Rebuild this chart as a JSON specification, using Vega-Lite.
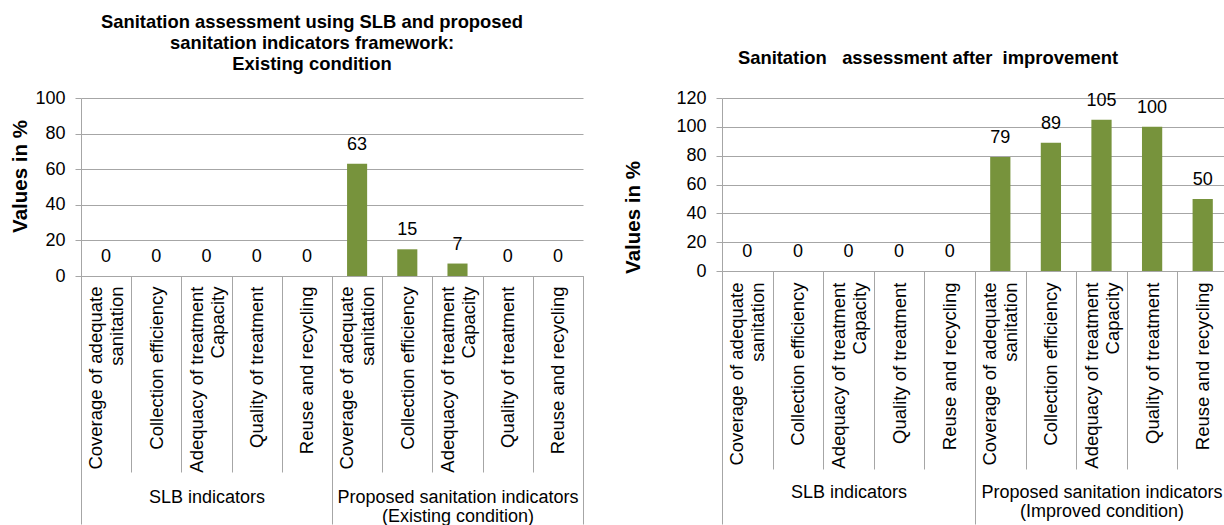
{
  "$schema": "https://vega.github.io/schema/vega-lite/v6.json",
  "padding": {"top": 12, "left": 10, "right": 0, "bottom": 0},
  "spacing": 39,
  "config": {
    "font": "Liberation Sans",
    "view": {"stroke": null},
    "axis": {"labelColor": "#000", "titleColor": "#000", "domainColor": "#a6a6a6", "tickColor": "#a6a6a6", "gridColor": "#a6a6a6"}
  },
  "datasets": {
    "existing": [
      {"key": "SLB indicators|Coverage of adequate sanitation", "group": "SLB indicators", "value": 0},
      {"key": "SLB indicators|Collection efficiency", "group": "SLB indicators", "value": 0},
      {"key": "SLB indicators|Adequacy of treatment Capacity", "group": "SLB indicators", "value": 0},
      {"key": "SLB indicators|Quality of treatment", "group": "SLB indicators", "value": 0},
      {"key": "SLB indicators|Reuse and recycling", "group": "SLB indicators", "value": 0},
      {"key": "Proposed|Coverage of adequate sanitation", "group": "Proposed sanitation indicators (Existing condition)", "value": 63},
      {"key": "Proposed|Collection efficiency", "group": "Proposed sanitation indicators (Existing condition)", "value": 15},
      {"key": "Proposed|Adequacy of treatment Capacity", "group": "Proposed sanitation indicators (Existing condition)", "value": 7},
      {"key": "Proposed|Quality of treatment", "group": "Proposed sanitation indicators (Existing condition)", "value": 0},
      {"key": "Proposed|Reuse and recycling", "group": "Proposed sanitation indicators (Existing condition)", "value": 0}
    ],
    "improved": [
      {"key": "SLB indicators|Coverage of adequate sanitation", "group": "SLB indicators", "value": 0},
      {"key": "SLB indicators|Collection efficiency", "group": "SLB indicators", "value": 0},
      {"key": "SLB indicators|Adequacy of treatment Capacity", "group": "SLB indicators", "value": 0},
      {"key": "SLB indicators|Quality of treatment", "group": "SLB indicators", "value": 0},
      {"key": "SLB indicators|Reuse and recycling", "group": "SLB indicators", "value": 0},
      {"key": "Proposed|Coverage of adequate sanitation", "group": "Proposed sanitation indicators (Improved condition)", "value": 79},
      {"key": "Proposed|Collection efficiency", "group": "Proposed sanitation indicators (Improved condition)", "value": 89},
      {"key": "Proposed|Adequacy of treatment Capacity", "group": "Proposed sanitation indicators (Improved condition)", "value": 105},
      {"key": "Proposed|Quality of treatment", "group": "Proposed sanitation indicators (Improved condition)", "value": 100},
      {"key": "Proposed|Reuse and recycling", "group": "Proposed sanitation indicators (Improved condition)", "value": 50}
    ]
  },
  "hconcat": [
    {
      "data": {"name": "existing"},
      "width": 502,
      "height": 178,
      "title": {
        "text": ["Sanitation assessment using SLB and proposed", "sanitation indicators framework:", "Existing condition"],
        "fontSize": 18.4, "fontWeight": "bold", "lineHeight": 21, "color": "#000",
        "anchor": "middle", "frame": "group", "dx": -20, "offset": 16
      },
      "layer": [
        {
          "encoding": {
            "x": {
              "field": "key", "type": "ordinal", "sort": null, "title": null,
              "scale": {"paddingInner": 0, "paddingOuter": 0},
              "axis": {
                "orient": "bottom", "labelAngle": -90, "labelAlign": "right", "labelBaseline": "middle",
                "labelFontSize": 18.5, "labelLineHeight": 21, "labelPadding": -186, "labelLimit": 0, "labelOverlap": false,
                "labelOffset": {"condition": {"test": "indexof('' + datum.label, 'sanitation') >= 0 || indexof('' + datum.label, 'Capacity') >= 0", "value": -10.5}, "value": 0},
                "labelExpr": "indexof('' + datum.label, '|') < 0 ? '' : split(replace(replace(split('' + datum.label, '|')[1], ' sanitation', '~sanitation'), ' Capacity', '~Capacity'), '~')",
                "tickBand": "extent", "tickSize": 196, "grid": false
              }
            },
            "y": {
              "field": "value", "type": "quantitative",
              "scale": {"domain": [0, 100], "nice": false},
              "axis": {
                "values": [0, 20, 40, 60, 80, 100], "title": "Values in %", "titleFontSize": 20.5, "titleFontWeight": "bold",
                "titlePadding": 4, "titleY": 78, "labelFontSize": 18, "labelPadding": 10, "tickSize": 6, "grid": true
              }
            }
          },
          "layer": [
            {"mark": {"type": "bar", "color": "#77933C", "width": {"band": 0.4}}},
            {"mark": {"type": "text", "dy": -19, "fontSize": 18, "color": "#000", "baseline": "middle"}, "encoding": {"text": {"field": "value", "type": "quantitative"}}}
          ]
        },
        {
          "mark": {"type": "point", "opacity": 0},
          "encoding": {
            "x": {
              "field": "group", "type": "nominal", "sort": null, "title": null,
              "scale": {"paddingInner": 0, "paddingOuter": 0},
              "axis": {
                "orient": "bottom", "domain": false, "labelAngle": 0, "labelAlign": "center", "labelBaseline": "top",
                "labelFontSize": 18, "labelLineHeight": 19, "labelPadding": -36, "labelLimit": 0, "labelOverlap": false,
                "labelExpr": "indexof('' + datum.label, 'indicators') < 0 ? '' : split(replace('' + datum.label, ' (', '~('), '~')",
                "tickBand": "extent", "tickSize": 248, "grid": false
              }
            }
          }
        }
      ],
      "resolve": {"scale": {"x": "independent"}, "axis": {"x": "independent"}}
    },
    {
      "data": {"name": "improved"},
      "width": 506,
      "height": 173,
      "title": {
        "text": "Sanitation\u00a0\u00a0 assessment after\u00a0 improvement",
        "fontSize": 18.4, "fontWeight": "bold", "color": "#000",
        "anchor": "middle", "frame": "group", "dx": -47, "offset": 22
      },
      "layer": [
        {
          "encoding": {
            "x": {
              "field": "key", "type": "ordinal", "sort": null, "title": null,
              "scale": {"paddingInner": 0, "paddingOuter": 0},
              "axis": {
                "orient": "bottom", "labelAngle": -90, "labelAlign": "right", "labelBaseline": "middle",
                "labelFontSize": 18.5, "labelLineHeight": 21, "labelPadding": -187, "labelLimit": 0, "labelOverlap": false,
                "labelOffset": {"condition": {"test": "indexof('' + datum.label, 'sanitation') >= 0 || indexof('' + datum.label, 'Capacity') >= 0", "value": -10.5}, "value": 0},
                "labelExpr": "indexof('' + datum.label, '|') < 0 ? '' : split(replace(replace(split('' + datum.label, '|')[1], ' sanitation', '~sanitation'), ' Capacity', '~Capacity'), '~')",
                "tickBand": "extent", "tickSize": 198, "grid": false
              }
            },
            "y": {
              "field": "value", "type": "quantitative",
              "scale": {"domain": [0, 120], "nice": false},
              "axis": {
                "values": [0, 20, 40, 60, 80, 100, 120], "title": "Values in %", "titleFontSize": 20.5, "titleFontWeight": "bold",
                "titlePadding": 32, "titleY": 119, "labelFontSize": 18, "labelPadding": 10, "tickSize": 6, "grid": true
              }
            }
          },
          "layer": [
            {"mark": {"type": "bar", "color": "#77933C", "width": {"band": 0.4}}},
            {"mark": {"type": "text", "dy": -19, "fontSize": 18, "color": "#000", "baseline": "middle"}, "encoding": {"text": {"field": "value", "type": "quantitative"}}}
          ]
        },
        {
          "mark": {"type": "point", "opacity": 0},
          "encoding": {
            "x": {
              "field": "group", "type": "nominal", "sort": null, "title": null,
              "scale": {"paddingInner": 0, "paddingOuter": 0},
              "axis": {
                "orient": "bottom", "domain": false, "labelAngle": 0, "labelAlign": "center", "labelBaseline": "top",
                "labelFontSize": 18, "labelLineHeight": 19, "labelPadding": -41, "labelLimit": 0, "labelOverlap": false,
                "labelExpr": "indexof('' + datum.label, 'indicators') < 0 ? '' : split(replace('' + datum.label, ' (', '~('), '~')",
                "tickBand": "extent", "tickSize": 253, "grid": false
              }
            }
          }
        }
      ],
      "resolve": {"scale": {"x": "independent"}, "axis": {"x": "independent"}}
    }
  ]
}
